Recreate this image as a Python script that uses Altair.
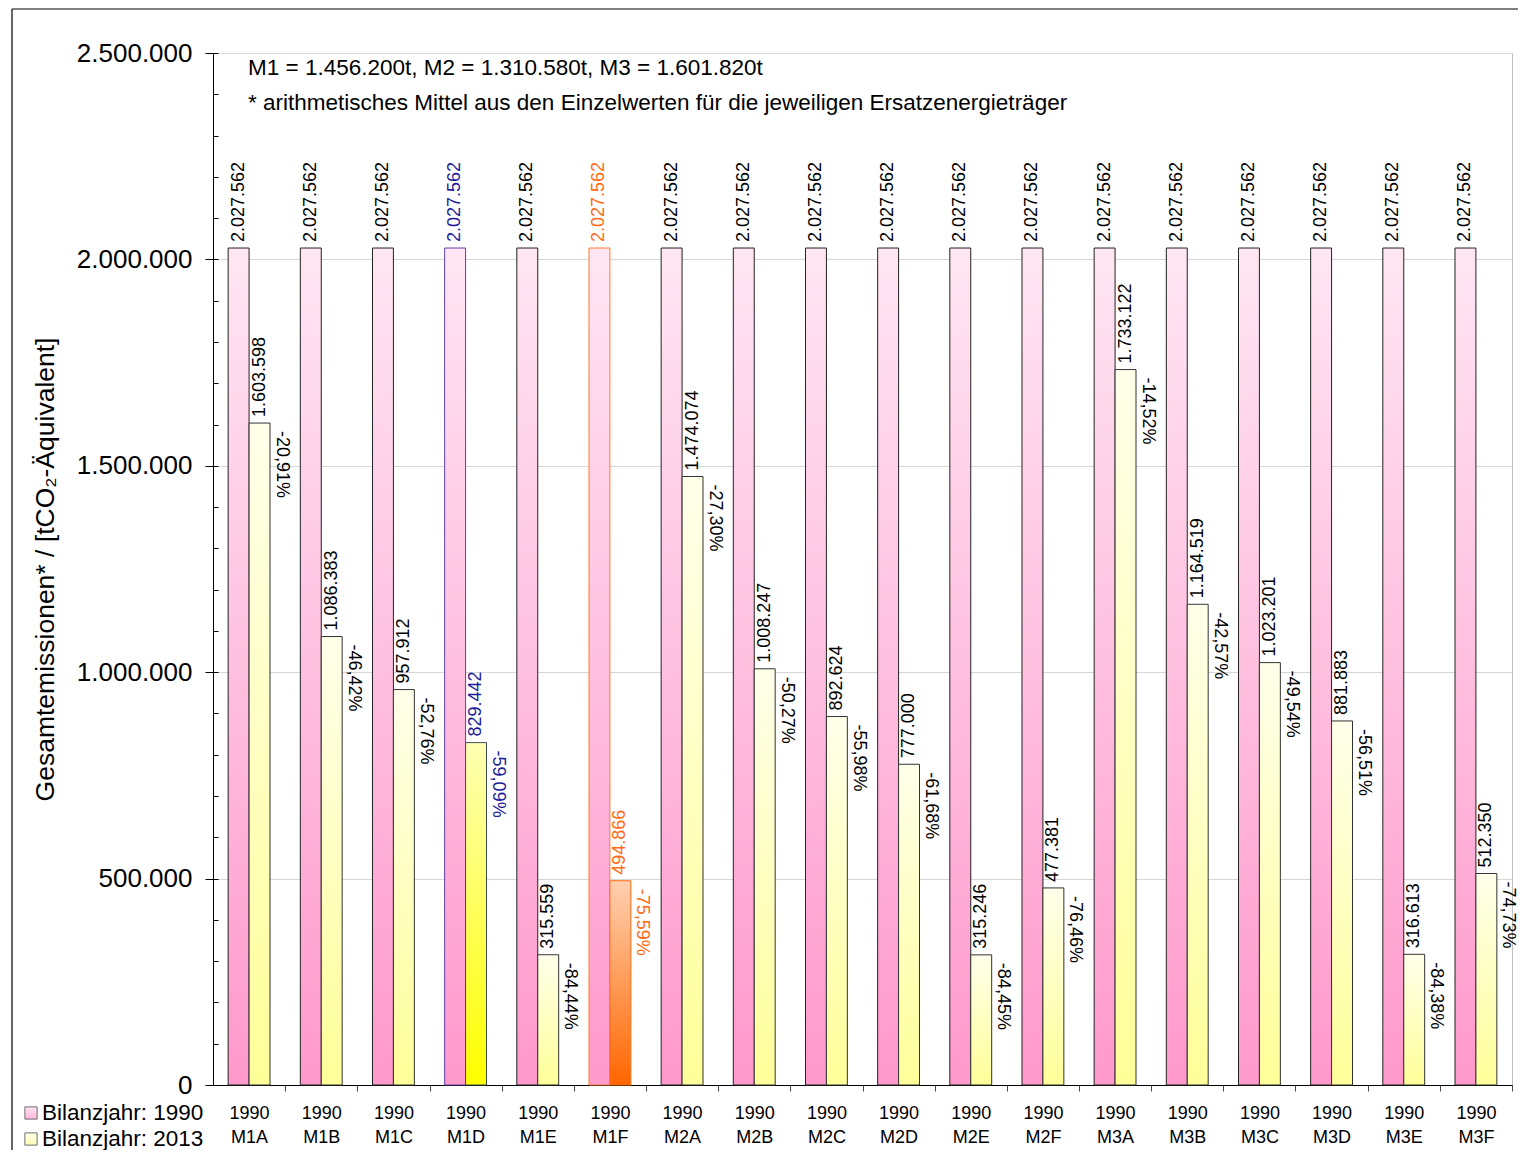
import altair as alt
import pandas as pd

cats = ["M1A", "M1B", "M1C", "M1D", "M1E", "M1F",
        "M2A", "M2B", "M2C", "M2D", "M2E", "M2F",
        "M3A", "M3B", "M3C", "M3D", "M3E", "M3F"]
years = ["1990", "2013"]
v1990 = [2027562] * 18
v2013 = [1603598, 1086383, 957912, 829442, 315559, 494866,
         1474074, 1008247, 892624, 777000, 315246, 477381,
         1733122, 1164519, 1023201, 881883, 316613, 512350]
pct = ["-20,91%", "-46,42%", "-52,76%", "-59,09%", "-84,44%", "-75,59%",
       "-27,30%", "-50,27%", "-55,98%", "-61,68%", "-84,45%", "-76,46%",
       "-14,52%", "-42,57%", "-49,54%", "-56,51%", "-84,38%", "-74,73%"]
highlight = ["normal", "normal", "normal", "blue", "normal", "orange"] + ["normal"] * 12
y_ticks = [0, 500000, 1000000, 1500000, 2000000, 2500000]
y_minor = [0, 100000, 200000, 300000, 400000, 500000, 600000, 700000, 800000, 900000,
           1000000, 1100000, 1200000, 1300000, 1400000, 1500000, 1600000, 1700000,
           1800000, 1900000, 2000000, 2100000, 2200000, 2300000, 2400000, 2500000]
notes = ["M1 = 1.456.200t, M2 = 1.310.580t, M3 = 1.601.820t",
         "* arithmetisches Mittel aus den Einzelwerten für die jeweiligen Ersatzenergieträger"]
legend_labels = ["Bilanzjahr: 1990", "Bilanzjahr: 2013"]
y_title = "Gesamtemissionen* / [tCO₂-Äquivalent]"

rows = []
for i, c in enumerate(cats):
    rows.append({"cat": c, "year": "1990", "value": v1990[i], "hl": highlight[i], "pct": ""})
    rows.append({"cat": c, "year": "2013", "value": v2013[i], "hl": highlight[i], "pct": pct[i]})
df = pd.DataFrame(rows)
one = pd.DataFrame({"a": [0]})

W = 1299
H = 1032
STEP = W / 18.0
HALF_GAP = STEP * 0.42 / 2


def grad(top, bottom):
    return alt.Gradient(gradient="linear",
                        stops=[alt.GradientStop(color=top, offset=0),
                               alt.GradientStop(color=bottom, offset=1)],
                        x1=0, x2=0, y1=0, y2=1)


pink = grad("#FFE6F3", "#FF99CC")
yellow = grad("#FFFFEA", "#FFFF99")
yellow_hi = grad("#FFFFB4", "#FFFF00")
orange = grad("#FFD0B0", "#FF6600")

x_axis = alt.Axis(title=None, labelExpr="['1990', datum.value]", labelFontSize=18,
                  labelColor="black", labelAngle=0, labelBaseline="top", labelLineHeight=24,
                  labelPadding=13, tickSize=6, tickColor="#444444", domainColor="black",
                  bandPosition=1, tickOffset=HALF_GAP, labelOffset=-HALF_GAP,
                  tickExtra=False, grid=False)
X = alt.X("cat:N", scale=alt.Scale(domain=cats, paddingInner=0.42, paddingOuter=0.21), axis=x_axis)
XO = alt.XOffset("year:N", scale=alt.Scale(domain=years, paddingInner=0, paddingOuter=0))
yscale = alt.Scale(domain=[0, 2500000], nice=False)

main_axis = alt.Axis(values=y_ticks, format=",d", orient="left", labelFontSize=26, labelColor="black",
                     tickSize=8, tickColor="black", domainColor="black", labelPadding=13,
                     grid=True, gridColor="#D6D6D6", title=y_title, titleFontSize=26.5,
                     titleFontWeight="normal", titleColor="black", titleX=-168, titleY=516,
                     titleAngle=270, titleAlign="center", titleBaseline="middle")
minor_axis = alt.Axis(values=y_minor, orient="left", labels=False, domain=False, grid=False,
                      tickSize=5, tickColor="black", offset=-5, title=None)

Y_main = alt.Y("value:Q", scale=yscale, axis=main_axis)
Y_minor = alt.Y("value:Q", scale=yscale, axis=minor_axis)
Y = alt.Y("value:Q", scale=yscale, axis=None)

text_color = alt.Color("hl:N", scale=alt.Scale(domain=["normal", "blue", "orange"],
                                               range=["black", "#1C1C9C", "#FF6A13"]), legend=None)

base = alt.Chart(df)

bars1990 = base.transform_filter(alt.datum.year == "1990").mark_bar(fill=pink, strokeWidth=1).encode(
    x=X, xOffset=XO, y=Y_main,
    stroke=alt.Stroke("hl:N", scale=alt.Scale(domain=["normal", "blue", "orange"],
                                              range=["#222222", "#5B3FA8", "#FF7A33"]), legend=None))
bars2013 = base.transform_filter((alt.datum.year == "2013") & (alt.datum.hl == "normal")).mark_bar(
    fill=yellow, stroke="#333333", strokeWidth=1).encode(x=X, xOffset=XO, y=Y)
bars2013b = base.transform_filter((alt.datum.year == "2013") & (alt.datum.hl == "blue")).mark_bar(
    fill=yellow_hi, stroke="#3A4A5A", strokeWidth=1).encode(x=X, xOffset=XO, y=Y)
bars2013o = base.transform_filter((alt.datum.year == "2013") & (alt.datum.hl == "orange")).mark_bar(
    fill=orange, stroke="#FF6A13", strokeWidth=1).encode(x=X, xOffset=XO, y=Y)

val_text = base.mark_text(angle=270, align="left", baseline="middle", dx=6, fontSize=18).encode(
    x=X, xOffset=XO, y=Y_minor, text=alt.Text("value:Q", format=",d"), color=text_color)
pct_text = base.transform_filter(alt.datum.year == "2013").mark_text(
    angle=90, align="left", baseline="middle", dx=8, dy=-22, fontSize=18).encode(
    x=X, xOffset=XO, y=Y, text="pct:N", color=text_color)

note1 = alt.Chart(pd.DataFrame({"t": [notes[0]]})).mark_text(
    align="left", baseline="middle", fontSize=22.5, color="black").encode(
    x=alt.value(35), y=alt.value(15), text="t:N")
note2 = alt.Chart(pd.DataFrame({"t": [notes[1]]})).mark_text(
    align="left", baseline="middle", fontSize=22.5, color="black").encode(
    x=alt.value(35), y=alt.value(50), text="t:N")

leg_sq1 = alt.Chart(one).mark_square(size=150, fill=grad("#FFD6EB", "#FF99CC"), stroke="#333333",
                                     strokeWidth=1).encode(x=alt.value(-182), y=alt.value(1060))
leg_sq2 = alt.Chart(one).mark_square(size=150, fill=grad("#FFFFE0", "#FFFF99"), stroke="#333333",
                                     strokeWidth=1).encode(x=alt.value(-182), y=alt.value(1086))
leg_t1 = alt.Chart(pd.DataFrame({"t": [legend_labels[0]]})).mark_text(
    align="left", baseline="middle", fontSize=22.5, color="black").encode(
    x=alt.value(-171), y=alt.value(1060), text="t:N")
leg_t2 = alt.Chart(pd.DataFrame({"t": [legend_labels[1]]})).mark_text(
    align="left", baseline="middle", fontSize=22.5, color="black").encode(
    x=alt.value(-171), y=alt.value(1086), text="t:N")

frame_left = alt.Chart(one).mark_rule(color="black", strokeWidth=1.2).encode(
    x=alt.value(-201), y=alt.value(-44), y2=alt.value(1100))
frame_top = alt.Chart(one).mark_rule(color="black", strokeWidth=1.2).encode(
    x=alt.value(-201), x2=alt.value(1310), y=alt.value(-44))

chart = alt.layer(
    bars1990, bars2013, bars2013b, bars2013o, val_text, pct_text,
    note1, note2, leg_sq1, leg_sq2, leg_t1, leg_t2, frame_left, frame_top
).resolve_axis(y="independent").properties(
    width=W, height=H,
    padding={"left": 205, "top": 45, "right": 1305 - W, "bottom": 65},
    autosize=alt.AutoSizeParams(type="none"),
).configure(font="Liberation Sans").configure_view(stroke="#BFBFBF")

chart.save("out.html", embed_options={
    "renderer": "svg", "actions": False,
    "formatLocale": {"decimal": ",", "thousands": ".", "grouping": [3], "currency": ["", " €"]}})
